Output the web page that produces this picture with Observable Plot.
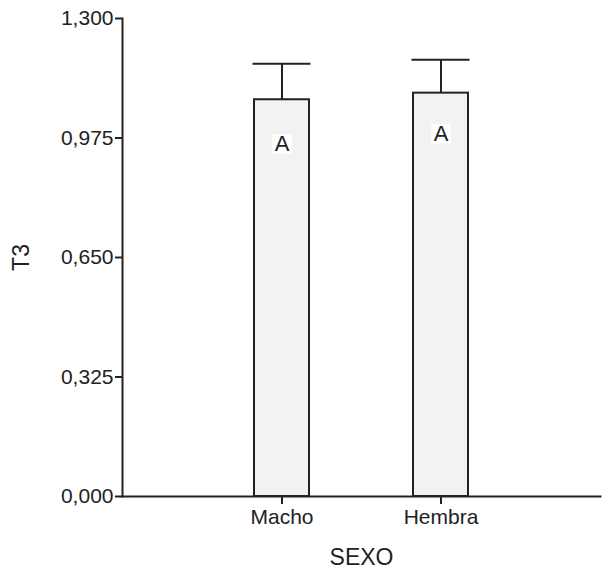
<!DOCTYPE html>
<html>
<head>
<meta charset="utf-8">
<script src="https://cdn.jsdelivr.net/npm/d3@7"></script>
<script src="https://cdn.jsdelivr.net/npm/@observablehq/plot@0.6"></script>
<style>
  body { margin: 0; background: #fff; }
  svg { font-family: "Liberation Sans", Arial, sans-serif; }
</style>
</head>
<body>
<div id="chart"></div>
<script>
const categories = ["Macho", "Hembra"];
const means = [1.079, 1.097];
const errors = [0.098, 0.091];
const letters = ["A", "A"];
const letterY = [0.959, 0.986];
const yTicks = [0, 0.325, 0.65, 0.975, 1.3];

const data = categories.map((c, i) => ({
  sexo: c, mean: means[i], top: means[i] + errors[i], letter: letters[i], ly: letterY[i]
}));

const fmt = d3.formatLocale({decimal: ",", thousands: ".", grouping: [3]}).format(".3f");

const chart = Plot.plot({
  width: 602,
  height: 570,
  marginLeft: 122,
  marginRight: 2,
  marginTop: 18,
  marginBottom: 74,
  style: {fontSize: "21px", fontFamily: "Liberation Sans, Arial, sans-serif", color: "#222"},
  x: {domain: categories, paddingInner: 0.655, paddingOuter: 0.8275, label: null},
  y: {domain: [0, 1.3], label: null},
  marks: [
    Plot.ruleX(data, {x: "sexo", y1: "mean", y2: "top", stroke: "#222", strokeWidth: 2}),
    Plot.tickY(data, {x: "sexo", y: "top", stroke: "#222", strokeWidth: 2, insetLeft: -1.5, insetRight: -1.5}),
    Plot.barY(data, {x: "sexo", y: "mean", fill: "#f2f2f2", stroke: "#222", strokeWidth: 2}),
    Plot.dot(data, {x: "sexo", y: "ly", symbol: "square", r: 11, fill: "white", stroke: null}),
    Plot.text(data, {x: "sexo", y: "ly", text: "letter", fontSize: 22, fill: "#222"}),
    Plot.axisY({ticks: yTicks, tickFormat: fmt, tickSize: 7, tickPadding: 2, strokeWidth: 2, fontSize: 21,
      label: "T3", labelAnchor: "center", labelArrow: "none", labelOffset: 110}),
    Plot.axisX({tickSize: 8, tickPadding: 5, strokeWidth: 2, fontSize: 21,
      label: "SEXO", labelAnchor: "center", labelArrow: "none", labelOffset: 68}),
    Plot.frame({anchor: "left", stroke: "#222", strokeWidth: 2}),
    Plot.frame({anchor: "bottom", stroke: "#222", strokeWidth: 2})
  ]
});
chart.querySelectorAll("[aria-label='y-axis label'], [aria-label='x-axis label']").forEach(g => g.setAttribute("font-size", "23"));
document.getElementById("chart").appendChild(chart);
</script>
</body>
</html>
